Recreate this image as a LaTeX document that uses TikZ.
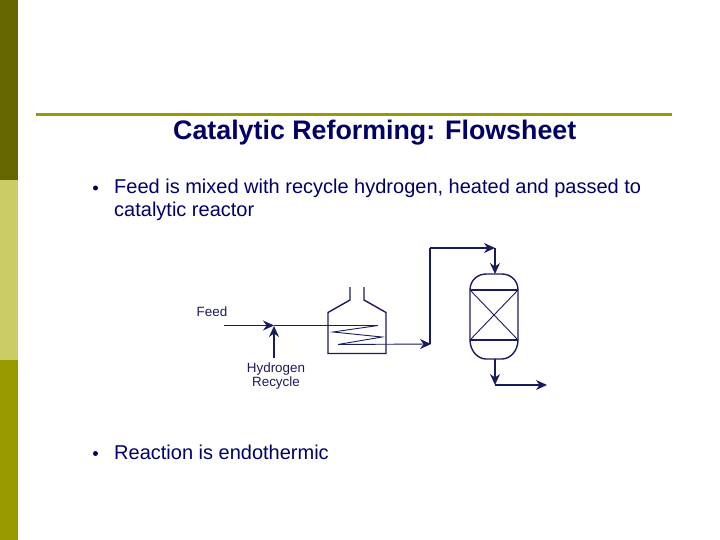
\documentclass[tikz,border=0pt]{standalone}
\usepackage{fontspec}
\setmainfont{Liberation Sans}
\usepackage{xcolor}
\usetikzlibrary{arrows.meta}
\definecolor{navy}{HTML}{000066}
\definecolor{linea}{HTML}{1A1A5E}
\definecolor{olivescuro}{HTML}{666600}
\definecolor{olivechiaro}{HTML}{CCCC66}
\definecolor{olivemedio}{HTML}{999900}
\tikzset{
  testo/.style={anchor=base west, inner sep=0pt, text=navy, font=\fontsize{20}{22}\selectfont},
  etichetta/.style={inner sep=0pt, text=linea, font=\fontsize{13.4}{14}\selectfont},
  tubo/.style={draw=linea, line width=1.4pt},
  flusso/.style={tubo, -{Stealth[length=11pt,width=10pt]}},
  vaso/.style={draw=linea, line width=1.4pt},
  sottile/.style={draw=linea, line width=.9pt},
}
\begin{document}
\begin{tikzpicture}[x=1pt,y=-1pt]
  \useasboundingbox (0,0) rectangle (720,540);
  % fascia laterale
  \fill[olivescuro] (0,0) rectangle (18,180);
  \fill[olivechiaro] (0,180) rectangle (18,360);
  \fill[olivemedio] (0,360) rectangle (18,540);
  \fill[olivemedio] (36,113) rectangle (672,116);
  % testi
  \node[testo, font=\fontsize{26.8}{28}\selectfont\bfseries] (titolo) at (173,140) {Catalytic Reforming: Flowsheet};
  \node[circle, fill=navy, inner sep=0pt, minimum size=5pt] (punto1) at (95.5,188) {};
  \node[testo] (riga1) at (114,194) {Feed is mixed with recycle hydrogen, heated and passed to};
  \node[testo] (riga2) at (114,216) {catalytic reactor};
  \node[circle, fill=navy, inner sep=0pt, minimum size=5pt] (punto2) at (95.5,453.5) {};
  \node[testo] (riga3) at (114,459.5) {Reaction is endothermic};
  \node[etichetta] (feed) at (212,312) {Feed};
  \node[etichetta] (hydrogen) at (276,369) {Hydrogen};
  \node[etichetta] (recycle) at (276,383) {Recycle};
  % forno
  \draw[vaso] (350,287) -- (350,300) -- (328,312.5) -- (328,353.5) -- (386,353.5) -- (386,312.5) -- (364,300) -- (364,287);
  % reattore
  \draw[vaso] (470,290) .. controls (470,280) and (478,274) .. (486,274) -- (502,274)
    .. controls (510,274) and (518,280) .. (518,290) -- (518,340)
    .. controls (518,351) and (510,359) .. (502,359) -- (486,359)
    .. controls (478,359) and (470,351) .. (470,340) -- cycle;
  \draw[vaso] (470,290) -- (518,290);
  \draw[vaso] (470,340) -- (518,340);
  \draw[sottile] (470,290) -- (518,340);
  \draw[sottile] (518,290) -- (470,340);
  % punti delle linee
  \coordinate (feedin) at (223.5,325.5);
  \coordinate (miscela) at (274,325.5);
  \coordinate (h2in) at (274,358);
  \coordinate (h2out) at (274,326);
  \coordinate (coil1) at (378,325.5);
  \coordinate (coil2) at (333,332);
  \coordinate (coil3) at (382,337);
  \coordinate (coil4) at (338,344.5);
  \coordinate (forno) at (431,344);
  \coordinate (salita) at (430,248);
  \coordinate (curva) at (495,248);
  \coordinate (testa) at (495,274);
  \coordinate (fondo) at (495,359);
  \coordinate (basso) at (495,385);
  \coordinate (uscita) at (547,385);
  % linee
  \draw[flusso] (feedin) -- (miscela);
  \draw[tubo] (miscela) -- (coil1);
  \draw[sottile] (coil1) -- (coil2) -- (coil3) -- (coil4);
  \draw[flusso, line width=.9pt] (coil4) -- (forno);
  \draw[flusso] (h2in) -- (h2out);
  \draw[tubo] (430,344) -- (salita);
  \draw[flusso] (salita) -- (curva);
  \draw[flusso] (curva) -- (testa);
  \draw[flusso] (fondo) -- (basso);
  \draw[flusso] (basso) -- (uscita);
\end{tikzpicture}
\end{document}
